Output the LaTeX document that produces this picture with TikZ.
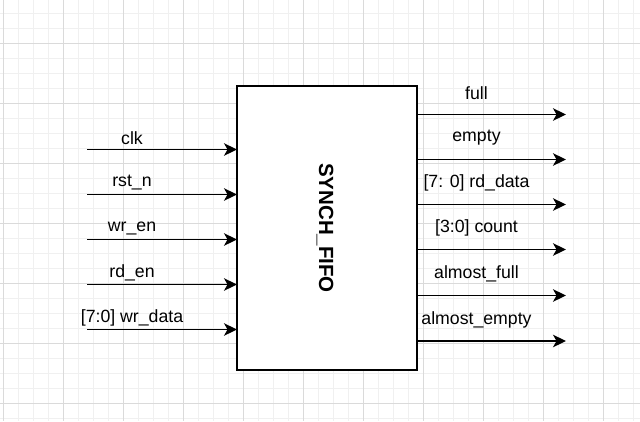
\documentclass[tikz,border=0pt]{standalone}
\usepackage{fontspec}
\setmainfont{Liberation Sans}
\usetikzlibrary{arrows.meta}
\definecolor{minorgrid}{HTML}{F0F0F0}
\definecolor{majorgrid}{HTML}{DADADA}
\tikzset{
  sig/.style={draw=black, line width=1.5pt, -{Stealth[length=13pt,width=12.5pt,inset=3.5pt]}},
  lbl/.style={font=\fontsize{17.7}{20}\selectfont, inner sep=0pt, anchor=center},
  blk/.style={draw=black, line width=1.5pt, fill=white, minimum width=180pt, minimum height=284pt, inner sep=0pt},
}
\begin{document}
\begin{tikzpicture}[x=1pt,y=-1pt]
\useasboundingbox (0,0) rectangle (640,421);
\fill[white] (0,0) rectangle (640,421);
% grid
\foreach \k in {0,...,42} {\draw[minorgrid, line width=1pt] (3+15*\k,0) -- (3+15*\k,421);}
\foreach \k in {0,...,27} {\draw[minorgrid, line width=1pt] (0,13+15*\k) -- (640,13+15*\k);}
\foreach \k in {0,...,10} {\draw[majorgrid, line width=1pt] (3+60*\k,0) -- (3+60*\k,421);}
\foreach \k in {0,...,6} {\draw[majorgrid, line width=1pt] (0,43+60*\k) -- (640,43+60*\k);}
% block
\node[blk] (fifo) at (327,228) {};
\node[font=\bfseries\fontsize{20.5}{22}\selectfont, rotate=-90, inner sep=0pt] (name) at (325,228) {SYNCH\_FIFO};
% inputs
\foreach \n/\y/\t in {clk/149.5/clk, rst/194.5/rst\_n, wren/239.5/wr\_en, rden/284.5/rd\_en, wdata/329.5/{[7:0] wr\_data}} {
  \coordinate (\n s) at (87,\y);
  \coordinate (\n e) at (237,\y);
  \draw[sig] (\n s) -- (\n e);
  \node[lbl] (\n l) at (132,\y-11.5) {\t};
}
% outputs
\foreach \n/\y/\t in {full/114.5/full, empty/159.5/empty, rdata/204.5/{[7: 0] rd\_data}, count/249.5/{[3:0] count}, afull/295.5/almost\_full, aempty/341/almost\_empty} {
  \coordinate (\n s) at (417,\y);
  \coordinate (\n e) at (566,\y);
  \draw[sig] (\n s) -- (\n e);
  \node[lbl] (\n l) at (476.5,\y-21.5) {\t};
}
\end{tikzpicture}
\end{document}
